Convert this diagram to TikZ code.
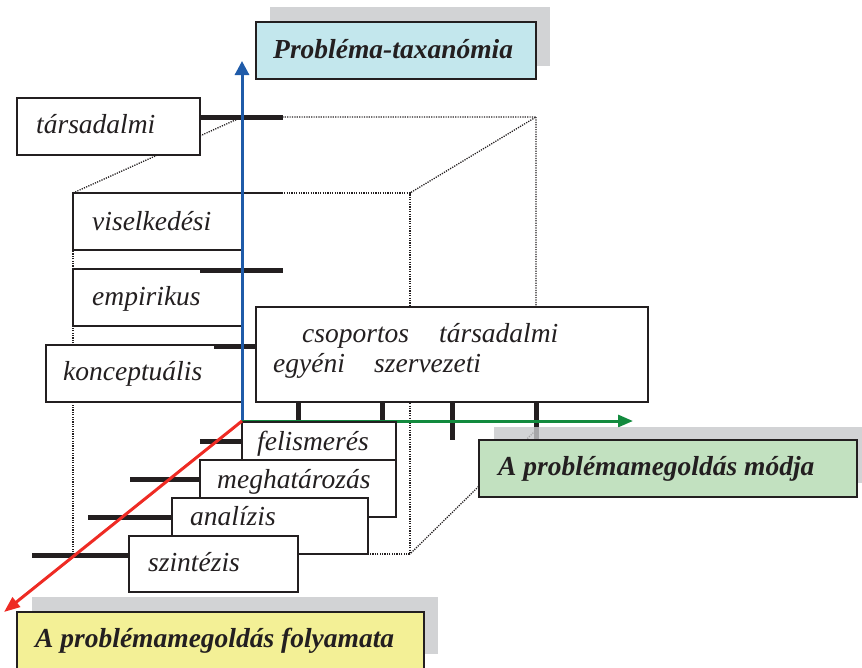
\documentclass[tikz,border=0pt]{standalone}
\usepackage{fontspec}
\setmainfont{Liberation Serif}
\usetikzlibrary{arrows.meta,calc}
\definecolor{edge}{HTML}{231F20}
\definecolor{shadowgray}{HTML}{C7C8CA}
\definecolor{titlecyan}{HTML}{C3E7ED}
\definecolor{modegreen}{HTML}{C2E1C0}
\definecolor{procyellow}{HTML}{F3F096}
\definecolor{axisblue}{HTML}{1F5BA9}
\definecolor{axisgreen}{HTML}{128A3E}
\definecolor{axisred}{HTML}{EE2B24}
\begin{document}
\begin{tikzpicture}[x=1pt,y=-1pt,
  box/.style={draw=edge,line width=1.6pt,fill=white,rectangle,inner sep=0pt,outer sep=0pt,anchor=north west},
  lbl/.style={font=\fontsize{27.5pt}{33pt}\selectfont\itshape,text=edge,inner sep=0pt,anchor=base west},
  ttl/.style={font=\fontsize{27.5pt}{33pt}\selectfont\bfseries\itshape,text=edge,inner sep=0pt,anchor=base west},
  tick/.style={draw=edge,line width=5pt},
  thintick/.style={draw=edge,line width=1.8pt},
  cube/.style={draw=edge,line width=1.3pt,dash pattern=on 1.2pt off 1.2pt},
  shade/.style={fill=shadowgray,fill opacity=0.8,draw=none,rectangle,inner sep=0pt,outer sep=0pt,anchor=north west},
  axis/.style={line width=3pt}
]
\useasboundingbox (0,0) rectangle (862,667);

% cube (dotted)
\coordinate (F1) at (73,193);
\coordinate (F2) at (410,193);
\coordinate (F3) at (410,554);
\coordinate (F4) at (73,554);
\coordinate (B1) at (242,117);
\coordinate (B2) at (536,117);
\coordinate (B3) at (536,430);
\draw[cube] (F1) -- (B1) -- (B2) -- (F2);
\draw[cube] (F1) -- (F2) -- (F3) -- (F4) -- cycle;
\draw[cube] (B2) -- (B3) -- (F3);

% title
\node[shade,minimum width=280pt,minimum height=59pt] (tsh) at (270,7) {};
\node[box,fill=titlecyan,minimum width=280pt,minimum height=57pt] (title) at (256,22) {};
\node[ttl] (titletxt) at ($(title.north west)+(17,36)$) {Probléma-taxanómia};

% left (taxonomy) boxes
\node[box,minimum width=183pt,minimum height=57pt] (tars) at (17,98) {};
\node[lbl] (tarstxt) at ($(tars.north west)+(19,35)$) {társadalmi};
\draw[tick] ($(tars.north east)+(0,19)$) -- ++(83,0);

\node[box,minimum width=169pt,minimum height=57pt] (visel) at (73,193) {};
\node[lbl] (viseltxt) at ($(visel.north west)+(19,37)$) {viselkedési};
\draw[thintick] ($(visel.north east)+(-42,0)$) -- ++(83,0);

\node[box,minimum width=169pt,minimum height=57pt] (empir) at (73,269) {};
\node[lbl] (empirtxt) at ($(empir.north west)+(19,36)$) {empirikus};
\draw[tick] ($(empir.north east)+(-42,1)$) -- ++(83,0);

\node[box,minimum width=196pt,minimum height=57pt] (konc) at (46,345) {};
\node[lbl] (konctxt) at ($(konc.north west)+(17,35)$) {konceptuális};

% big box (modes)
\node[box,minimum width=392pt,minimum height=95pt] (modes) at (256,307) {};
\draw[tick] ($(konc.north east)+(-28,1)$) -- (modes.west |- 0,346);
\node[lbl] (m1) at ($(modes.north west)+(46,35)$) {csoportos};
\node[lbl] (m2) at ($(modes.north west)+(183,35)$) {társadalmi};
\node[lbl] (m3) at ($(modes.north west)+(17,65)$) {egyéni};
\node[lbl] (m4) at ($(modes.north west)+(118,65)$) {szervezeti};
\draw[tick] ($(modes.south west)+(42,0)$) -- ++(0,20);
\draw[tick] ($(modes.south west)+(126,0)$) -- ++(0,20);
\draw[tick] ($(modes.south west)+(196,0)$) -- ++(0,38);
\draw[tick] ($(modes.south west)+(280,0)$) -- ++(0,38);

% axes
\coordinate (O) at (242,421);
\coordinate (Tblue) at (242,61);
\coordinate (Tgreen) at (633,421);
\coordinate (Tred) at (4,612);
\draw[axis,axisblue,-{Triangle[width=14pt,length=14pt]}] (O) -- (Tblue);
\draw[axis,axisgreen,-{Triangle[width=12pt,length=15pt]}] (O) -- (Tgreen);

% process boxes
\node[box,minimum width=154pt,minimum height=57pt] (felis) at (242,422) {};
\node[lbl] (felistxt) at ($(felis.north west)+(15,28)$) {felismerés};
\draw[tick] ($(felis.north west)+(0,19)$) -- ++(-42,0);

\node[box,minimum width=196pt,minimum height=57pt] (meghat) at (200,460) {};
\node[lbl] (meghattxt) at ($(meghat.north west)+(17,28)$) {meghatározás};
\draw[tick] ($(meghat.north west)+(0,19)$) -- ++(-70,0);

\node[box,minimum width=196pt,minimum height=56pt] (anal) at (172,498) {};
\node[lbl] (analtxt) at ($(anal.north west)+(18,27)$) {analízis};
\draw[tick] ($(anal.north west)+(0,19)$) -- ++(-84,0);

\node[box,minimum width=169pt,minimum height=56pt] (szint) at (129,536) {};
\node[lbl] (szinttxt) at ($(szint.north west)+(19,35)$) {szintézis};
\draw[tick] ($(szint.north west)+(0,19)$) -- ++(-97,0);

\draw[axis,axisred,-{Triangle[width=12pt,length=16pt]}] (O) -- (Tred);

% mode title
\node[shade,minimum width=370pt,minimum height=56pt] (gsh) at (494,427) {};
\node[box,fill=modegreen,minimum width=378pt,minimum height=57pt] (modebox) at (479,440) {};
\node[ttl] (modetxt) at ($(modebox.north west)+(19,35)$) {A problémamegoldás módja};

% process title
\node[shade,minimum width=406pt,minimum height=57pt] (ysh) at (32,597) {};
\node[box,fill=procyellow,minimum width=407pt,minimum height=62pt] (procbox) at (17,612) {};
\node[ttl] (proctxt) at ($(procbox.north west)+(18,35)$) {A problémamegoldás folyamata};
\end{tikzpicture}
\end{document}
